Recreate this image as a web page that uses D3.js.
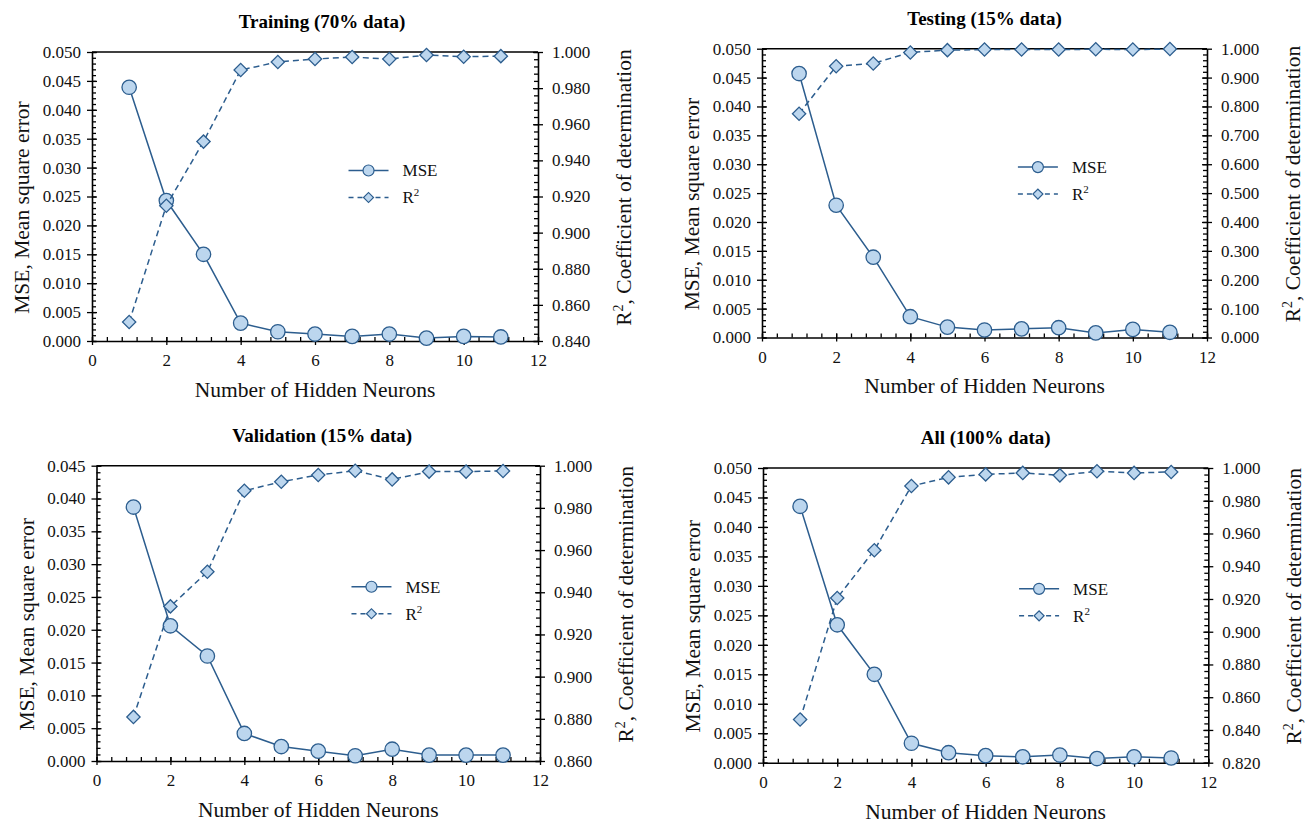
<!DOCTYPE html>
<html>
<head>
<meta charset="utf-8">
<script src="https://cdn.jsdelivr.net/npm/d3@7"></script>
<style>
  html, body { margin: 0; padding: 0; background: #fff; }
  svg { display: block; }
  svg text { font-family: "Liberation Serif", "Times New Roman", Times, serif; }
  .tick text { fill: #111; }
  .domain { stroke: #000; stroke-width: 1.6; }
  .tick line { stroke: #000; stroke-width: 1.3; }
</style>
</head>
<body>
<svg id="chart" width="1309" height="824"></svg>
<script>
// hidden neurons on the x axis
const neurons = [1, 2, 3, 4, 5, 6, 7, 8, 9, 10, 11];

// Training (70% data)
const mseTraining = [0.0439, 0.0243, 0.0150, 0.0031, 0.0016, 0.0012, 0.0008, 0.0012, 0.0005, 0.0008, 0.0007];
const r2Training  = [0.8505, 0.9149, 0.9504, 0.9900, 0.9945, 0.9961, 0.9972, 0.9961, 0.9983, 0.9974, 0.9977];

// Testing (15% data)
const mseTesting = [0.0457, 0.0229, 0.0139, 0.0036, 0.0018, 0.0013, 0.0015, 0.0017, 0.0008, 0.0014, 0.0009];
const r2Testing  = [0.775, 0.939, 0.949, 0.987, 0.995, 0.997, 0.997, 0.997, 0.998, 0.997, 0.999];

// Validation (15% data)
const mseValidation = [0.0387, 0.0206, 0.0160, 0.0042, 0.0022, 0.0015, 0.0008, 0.0018, 0.0009, 0.0009, 0.0009];
const r2Validation  = [0.8809, 0.9333, 0.9497, 0.9881, 0.9924, 0.9956, 0.9976, 0.9935, 0.9972, 0.9972, 0.9975];

// All (100% data)
const mseAll = [0.0435, 0.0234, 0.0150, 0.0033, 0.0017, 0.0012, 0.0010, 0.0013, 0.0007, 0.0010, 0.0008];
const r2All  = [0.8464, 0.9206, 0.9498, 0.9890, 0.9943, 0.9961, 0.9970, 0.9955, 0.9980, 0.9970, 0.9976];

const panelTitles = ['Training (70% data)', 'Testing (15% data)', 'Validation (15% data)', 'All (100% data)'];
const mseSeries = [mseTraining, mseTesting, mseValidation, mseAll];
const r2Series = [r2Training, r2Testing, r2Validation, r2All];
const mseMax = [0.050, 0.050, 0.045, 0.050];
const r2Min = [0.840, 0.000, 0.860, 0.820];
const r2Step = [0.020, 0.100, 0.020, 0.020];

const xLabel = 'Number of Hidden Neurons';
const mseLabel = 'MSE, Mean square error';

// plot boxes for the 4 panels (titleDx nudges the panel title)
const boxes = [
  { left: 92, right: 538, top: 52, bottom: 341, titleDx: 7 },
  { left: 762, right: 1207, top: 48.7, bottom: 337.5, titleDx: 0 },
  { left: 96.5, right: 540, top: 465.7, bottom: 761, titleDx: 4 },
  { left: 763, right: 1208.3, top: 468, bottom: 762.7, titleDx: 0 }
];

const serif = '"Liberation Serif", "Times New Roman", Times, serif';
const lineColor = '#2c5d8e';
const fillColor = '#bcd6ee';

const svg = d3.select('#chart');
svg.append('rect').attr('width', 1309).attr('height', 824).attr('fill', '#fff');

const fmt = d3.format('.3f');

function steps(lo, hi, step) {
  const n = Math.round((hi - lo) / step);
  return d3.range(n + 1).map(i => +(lo + i * step).toFixed(6));
}

function drawPanel(i) {
  const b = boxes[i];
  const w = b.right - b.left, h = b.bottom - b.top;
  const g = svg.append('g').attr('transform', `translate(${b.left},${b.top})`)
    .attr('font-family', serif);

  const x = d3.scaleLinear().domain([0, 12]).range([0, w]);
  const yL = d3.scaleLinear().domain([0, mseMax[i]]).range([h, 0]);
  const yR = d3.scaleLinear().domain([r2Min[i], 1]).range([h, 0]);

  // top frame line
  g.append('line').attr('x1', 0).attr('x2', w).attr('y1', 0).attr('y2', 0)
    .attr('stroke', '#000').attr('stroke-width', 1.6);

  // minor ticks (inside)
  g.append('g').attr('transform', `translate(0,${h})`)
    .call(d3.axisBottom(x).tickValues(steps(0, 12, 0.4)).tickSize(-4).tickFormat(''))
    .call(a => a.select('.domain').remove());
  g.append('g')
    .call(d3.axisLeft(yL).tickValues(steps(0, mseMax[i], 0.001)).tickSize(-4).tickFormat(''))
    .call(a => a.select('.domain').remove());
  g.append('g').attr('transform', `translate(${w},0)`)
    .call(d3.axisRight(yR).tickValues(steps(r2Min[i], 1, r2Step[i] / 5)).tickSize(-4).tickFormat(''))
    .call(a => a.select('.domain').remove());

  // major axes
  g.append('g').attr('transform', `translate(0,${h})`)
    .call(d3.axisBottom(x).tickValues(d3.range(0, 13, 2)).tickSizeInner(4).tickSizeOuter(0).tickPadding(9))
    .call(a => a.selectAll('.tick line').attr('y1', -4));
  g.append('g')
    .call(d3.axisLeft(yL).tickValues(steps(0, mseMax[i], 0.005)).tickSizeInner(5).tickSizeOuter(0).tickPadding(6).tickFormat(fmt))
    .call(a => a.selectAll('.tick line').attr('x1', 5));
  g.append('g').attr('transform', `translate(${w},0)`)
    .call(d3.axisRight(yR).tickValues(steps(r2Min[i], 1, r2Step[i])).tickSizeInner(5).tickSizeOuter(0).tickPadding(9).tickFormat(fmt))
    .call(a => a.selectAll('.tick line').attr('x1', -5));

  g.selectAll('g').attr('font-family', serif).attr('font-size', 17);

  // title
  g.append('text').attr('x', w / 2 + b.titleDx).attr('y', -24).attr('text-anchor', 'middle')
    .attr('font-family', serif)
    .attr('font-size', 19).attr('font-weight', 'bold').text(panelTitles[i]);

  // axis titles
  g.append('text').attr('x', w / 2).attr('y', h + 56).attr('text-anchor', 'middle')
    .attr('font-family', serif)
    .attr('font-size', 21.5).attr('fill', '#111').text(xLabel);
  g.append('text').attr('transform', `translate(${-63},${h / 2 + 11}) rotate(-90)`)
    .attr('font-family', serif)
    .attr('text-anchor', 'middle').attr('font-size', 21.5).attr('fill', '#111').text(mseLabel);
  const rt = g.append('text').attr('transform', `translate(${w + 93},${h / 2 - 9}) rotate(-90)`)
    .attr('font-family', serif)
    .attr('text-anchor', 'middle').attr('font-size', 21.5).attr('fill', '#111');
  rt.append('tspan').text('R');
  rt.append('tspan').attr('font-size', 14).attr('dy', -8).text('2');
  rt.append('tspan').attr('dy', 8).text(', Coefficient of determination');

  const mseData = neurons.map((n, k) => [n, mseSeries[i][k]]);
  const r2Data = neurons.map((n, k) => [n, r2Series[i][k]]);

  // MSE line + circles
  g.append('path').datum(mseData)
    .attr('d', d3.line().x(d => x(d[0])).y(d => yL(d[1])))
    .attr('fill', 'none').attr('stroke', lineColor).attr('stroke-width', 1.5);
  g.selectAll('circle.mse').data(mseData).join('circle').attr('class', 'mse')
    .attr('cx', d => x(d[0])).attr('cy', d => yL(d[1])).attr('r', 7.2)
    .attr('fill', fillColor).attr('stroke', lineColor).attr('stroke-width', 1.3);

  // R2 dashed line + diamonds
  const diamond = d3.symbol().type(d3.symbolSquare).size(88);
  g.append('path').datum(r2Data)
    .attr('d', d3.line().x(d => x(d[0])).y(d => yR(d[1])))
    .attr('fill', 'none').attr('stroke', lineColor).attr('stroke-width', 1.5)
    .attr('stroke-dasharray', '6,4');
  g.selectAll('path.r2').data(r2Data).join('path').attr('class', 'r2')
    .attr('d', diamond)
    .attr('transform', d => `translate(${x(d[0])},${yR(d[1])}) rotate(45)`)
    .attr('fill', fillColor).attr('stroke', lineColor).attr('stroke-width', 1.3);

  // legend
  const lg = g.append('g').attr('transform', `translate(${w * 0.62},${h * 0.41})`);
  lg.append('line').attr('x1', -20).attr('x2', 20).attr('stroke', lineColor).attr('stroke-width', 1.5);
  lg.append('circle').attr('r', 5.5).attr('fill', fillColor).attr('stroke', lineColor).attr('stroke-width', 1.2);
  lg.append('text').attr('x', 34).attr('y', 6).attr('font-size', 17).attr('fill', '#111').text('MSE');
  lg.append('line').attr('x1', -20).attr('x2', 20).attr('y1', 27).attr('y2', 27)
    .attr('stroke', lineColor).attr('stroke-width', 1.5).attr('stroke-dasharray', '5,4');
  lg.append('path').attr('d', d3.symbol().type(d3.symbolSquare).size(50))
    .attr('transform', 'translate(0,27) rotate(45)')
    .attr('fill', fillColor).attr('stroke', lineColor).attr('stroke-width', 1.2);
  const rl = lg.append('text').attr('x', 34).attr('y', 33).attr('font-size', 17).attr('fill', '#111');
  rl.append('tspan').text('R');
  rl.append('tspan').attr('font-size', 11).attr('dy', -7).text('2');
}

panelTitles.forEach((t, i) => drawPanel(i));
</script>
</body>
</html>
